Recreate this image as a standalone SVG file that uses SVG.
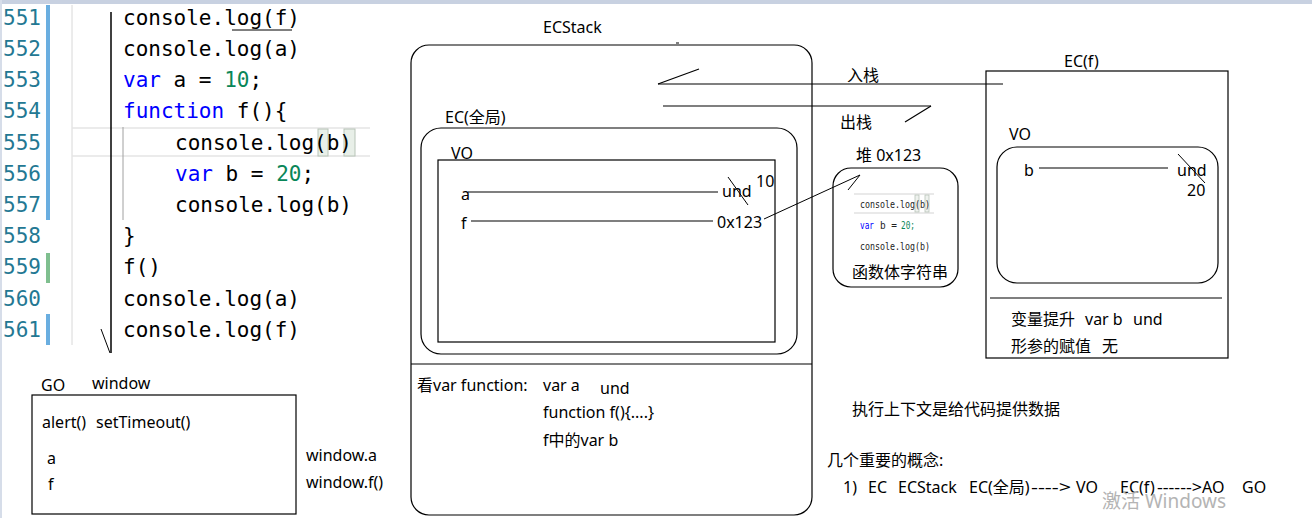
<svg xmlns="http://www.w3.org/2000/svg" width="1312" height="518" viewBox="0 0 1312 518">
<style>
.code{font-family:"DejaVu Sans Mono","Liberation Mono",monospace;font-size:21px;fill:#000}
.ln{font-family:"DejaVu Sans Mono","Liberation Mono",monospace;font-size:21px;fill:#237893}
.kw{fill:#0000ff}
.num{fill:#098658}
.t{font-family:"Noto Sans","Noto Sans CJK SC",sans-serif;font-size:16px;fill:#000;white-space:pre}
.tiny{font-family:"DejaVu Sans Mono","Liberation Mono",monospace;font-size:11px;fill:#222}
.box{fill:none;stroke:#000;stroke-width:1.2}
.ln1{stroke:#000;stroke-width:1.2;fill:none}
</style>
<rect width="1312" height="518" fill="#fff"/>
<rect x="0" y="0" width="1312" height="4" fill="#c8d1e1"/>
<rect x="0" y="0" width="2" height="518" fill="#d6dde9"/>

<g id="code">
  <rect x="46" y="5" width="4" height="215" fill="#6aaee0"/>
  <rect x="46" y="253" width="4" height="30" fill="#7fbf8f"/>
  <rect x="46" y="314" width="4" height="31" fill="#6aaee0"/>
  <line x1="72" y1="5" x2="72" y2="345" stroke="#d8d8d8" stroke-width="1"/>
  <line x1="72" y1="128" x2="370" y2="128" stroke="#e4e4e4" stroke-width="1.5"/>
  <line x1="72" y1="156" x2="370" y2="156" stroke="#e4e4e4" stroke-width="1.5"/>
  <rect x="318" y="129" width="10" height="27" fill="#e8efe8" stroke="#b8c4b8" stroke-width="1"/>
  <rect x="344" y="129" width="11" height="27" fill="#e8efe8" stroke="#b8c4b8" stroke-width="1"/>
  <line x1="111" y1="12" x2="111" y2="353" stroke="#000" stroke-width="1.5"/>
  <line x1="101" y1="329" x2="110" y2="353" stroke="#000" stroke-width="1"/>
  <line x1="123" y1="127" x2="123" y2="220" stroke="#a0a0a0" stroke-width="1"/>
  <line x1="232" y1="30" x2="292" y2="30" stroke="#000" stroke-width="1"/>
  <text class="ln" x="3" y="25">551</text>
  <text class="ln" x="3" y="56">552</text>
  <text class="ln" x="3" y="87">553</text>
  <text class="ln" x="3" y="118">554</text>
  <text class="ln" x="3" y="150">555</text>
  <text class="ln" x="3" y="181">556</text>
  <text class="ln" x="3" y="212">557</text>
  <text class="ln" x="3" y="243">558</text>
  <text class="ln" x="3" y="274">559</text>
  <text class="ln" x="3" y="306">560</text>
  <text class="ln" x="3" y="337">561</text>
  <text class="code" x="123" y="25">console.log(f)</text>
  <text class="code" x="123" y="56">console.log(a)</text>
  <text class="code" x="123" y="87"><tspan class="kw">var</tspan> a = <tspan class="num">10</tspan>;</text>
  <text class="code" x="123" y="118"><tspan class="kw">function</tspan> f(){</text>
  <text class="code" x="175" y="150">console.log(b)</text>
  <text class="code" x="175" y="181"><tspan class="kw">var</tspan> b = <tspan class="num">20</tspan>;</text>
  <text class="code" x="175" y="212">console.log(b)</text>
  <text class="code" x="123" y="243">}</text>
  <text class="code" x="123" y="274">f()</text>
  <text class="code" x="123" y="306">console.log(a)</text>
  <text class="code" x="123" y="337">console.log(f)</text>
</g>

<g id="go">
  <text class="t" x="41" y="391">GO</text>
  <text class="t" x="92" y="389">window</text>
  <rect class="box" x="32" y="395" width="264" height="119"/>
  <text class="t" x="42" y="428">alert()<tspan x="96">setTimeout()</tspan></text>
  <text class="t" x="47" y="464">a</text>
  <text class="t" x="48" y="490">f</text>
  <text class="t" x="306" y="461">window.a</text>
  <text class="t" x="306" y="488">window.f()</text>
</g>

<g id="ecstack">
  <text class="t" x="543" y="33">ECStack</text>
  <line x1="676" y1="43" x2="679" y2="43" stroke="#000" stroke-width="1"/>
  <rect class="box" x="411" y="45" width="401" height="470" rx="18" ry="18"/>
  <line class="ln1" x1="411" y1="364" x2="812" y2="364"/>
  <text class="t" x="417" y="391">看var function:</text>
  <text class="t" x="543" y="391">var a</text>
  <text class="t" x="600" y="394">und</text>
  <text class="t" x="543" y="418">function f(){....}</text>
  <text class="t" x="543" y="446">f中的var b</text>
</g>

<g id="ec-global">
  <text class="t" x="445" y="123">EC(全局)</text>
  <rect class="box" x="421" y="128" width="376" height="226" rx="20" ry="20"/>
  <text class="t" x="451" y="159">VO</text>
  <rect class="box" x="438" y="160" width="337" height="182"/>
  <text class="t" x="461" y="200">a</text>
  <text class="t" x="722" y="197">und</text>
  <text class="t" x="756" y="187">10</text>
  <text class="t" x="461" y="229">f</text>
  <text class="t" x="717" y="228">0x123</text>
</g>

<g id="heap">
  <text class="t" x="856" y="161">堆 0x123</text>
  <rect class="box" x="833" y="168" width="125" height="119" rx="18" ry="18"/>
  <line x1="854" y1="194" x2="934" y2="194" stroke="#e2e2e2" stroke-width="1.5"/>
  <line x1="854" y1="213" x2="934" y2="213" stroke="#e2e2e2" stroke-width="1.5"/>
  <rect x="915" y="195" width="4" height="17" fill="#eef2ee" stroke="#b8c4b8" stroke-width="0.8"/>
  <rect x="925" y="195" width="4" height="17" fill="#eef2ee" stroke="#b8c4b8" stroke-width="0.8"/>
  <text class="tiny" x="860" y="208" textLength="70" lengthAdjust="spacingAndGlyphs">console.log(b)</text>
  <text class="tiny" x="860" y="229" textLength="14" lengthAdjust="spacingAndGlyphs" fill="#0000ff" style="fill:#0000ff">var</text>
  <text class="tiny" x="880" y="229" textLength="17" lengthAdjust="spacingAndGlyphs">b =</text>
  <text class="tiny" x="901" y="229" textLength="14" lengthAdjust="spacingAndGlyphs" style="fill:#098658">20;</text>
  <text class="tiny" x="860" y="250" textLength="70" lengthAdjust="spacingAndGlyphs">console.log(b)</text>
  <text class="t" x="852" y="278">函数体字符串</text>
</g>

<g id="ec-f">
  <text class="t" x="1064" y="67">EC(f)</text>
  <rect class="box" x="986" y="71" width="242" height="287"/>
  <text class="t" x="1009" y="140">VO</text>
  <rect class="box" x="997" y="147" width="221" height="136" rx="20" ry="20"/>
  <text class="t" x="1024" y="176">b</text>
  <text class="t" x="1177" y="176">und</text>
  <text class="t" x="1187" y="196">20</text>
  <line class="ln1" x1="990" y1="298" x2="1222" y2="298"/>
  <text class="t" x="1011" y="325">变量提升<tspan x="1085">var b</tspan><tspan x="1133">und</tspan></text>
  <text class="t" x="1011" y="352">形参的赋值<tspan x="1102">无</tspan></text>
</g>

<g id="notes">
  <text class="t" x="852" y="415">执行上下文是给代码提供数据</text>
  <text class="t" x="827" y="466">几个重要的概念:</text>
  <text class="t" x="843" y="493">1)<tspan x="868">EC</tspan><tspan x="898">ECStack</tspan><tspan x="969">EC(全局)</tspan><tspan x="1031" textLength="40" lengthAdjust="spacingAndGlyphs">----&gt;</tspan><tspan x="1076">VO</tspan><tspan x="1120">EC(f)</tspan><tspan x="1157" textLength="45" lengthAdjust="spacingAndGlyphs">------&gt;</tspan><tspan x="1202">AO</tspan><tspan x="1242">GO</tspan></text>
  <text x="1102" y="508" font-family="Noto Sans,Noto Sans CJK SC,sans-serif" font-size="19" fill="#b4b4b4">激活 Windows</text>
</g>

<g id="connectors" stroke="#000" stroke-width="1.2" fill="none">
  <line x1="658" y1="84" x2="1003" y2="84"/>
  <line x1="658" y1="84" x2="699" y2="69"/>
  <line x1="663" y1="106" x2="931" y2="106"/>
  <line x1="931" y1="106" x2="905" y2="122"/>
  <text class="t" x="847" y="81" stroke="none" fill="#000">入栈</text>
  <text class="t" x="840" y="128" stroke="none" fill="#000">出栈</text>
  <line x1="468" y1="192" x2="718" y2="192"/>
  <line x1="728" y1="177" x2="748" y2="205" stroke-width="1"/>
  <line x1="471" y1="221" x2="713" y2="221"/>
  <line x1="764" y1="219" x2="860" y2="175" stroke-width="1"/>
  <line x1="860" y1="175" x2="848" y2="190" stroke-width="1"/>
  <line x1="1039" y1="168" x2="1168" y2="168"/>
  <line x1="1178" y1="154" x2="1205" y2="183" stroke-width="1"/>
</g>
</svg>
